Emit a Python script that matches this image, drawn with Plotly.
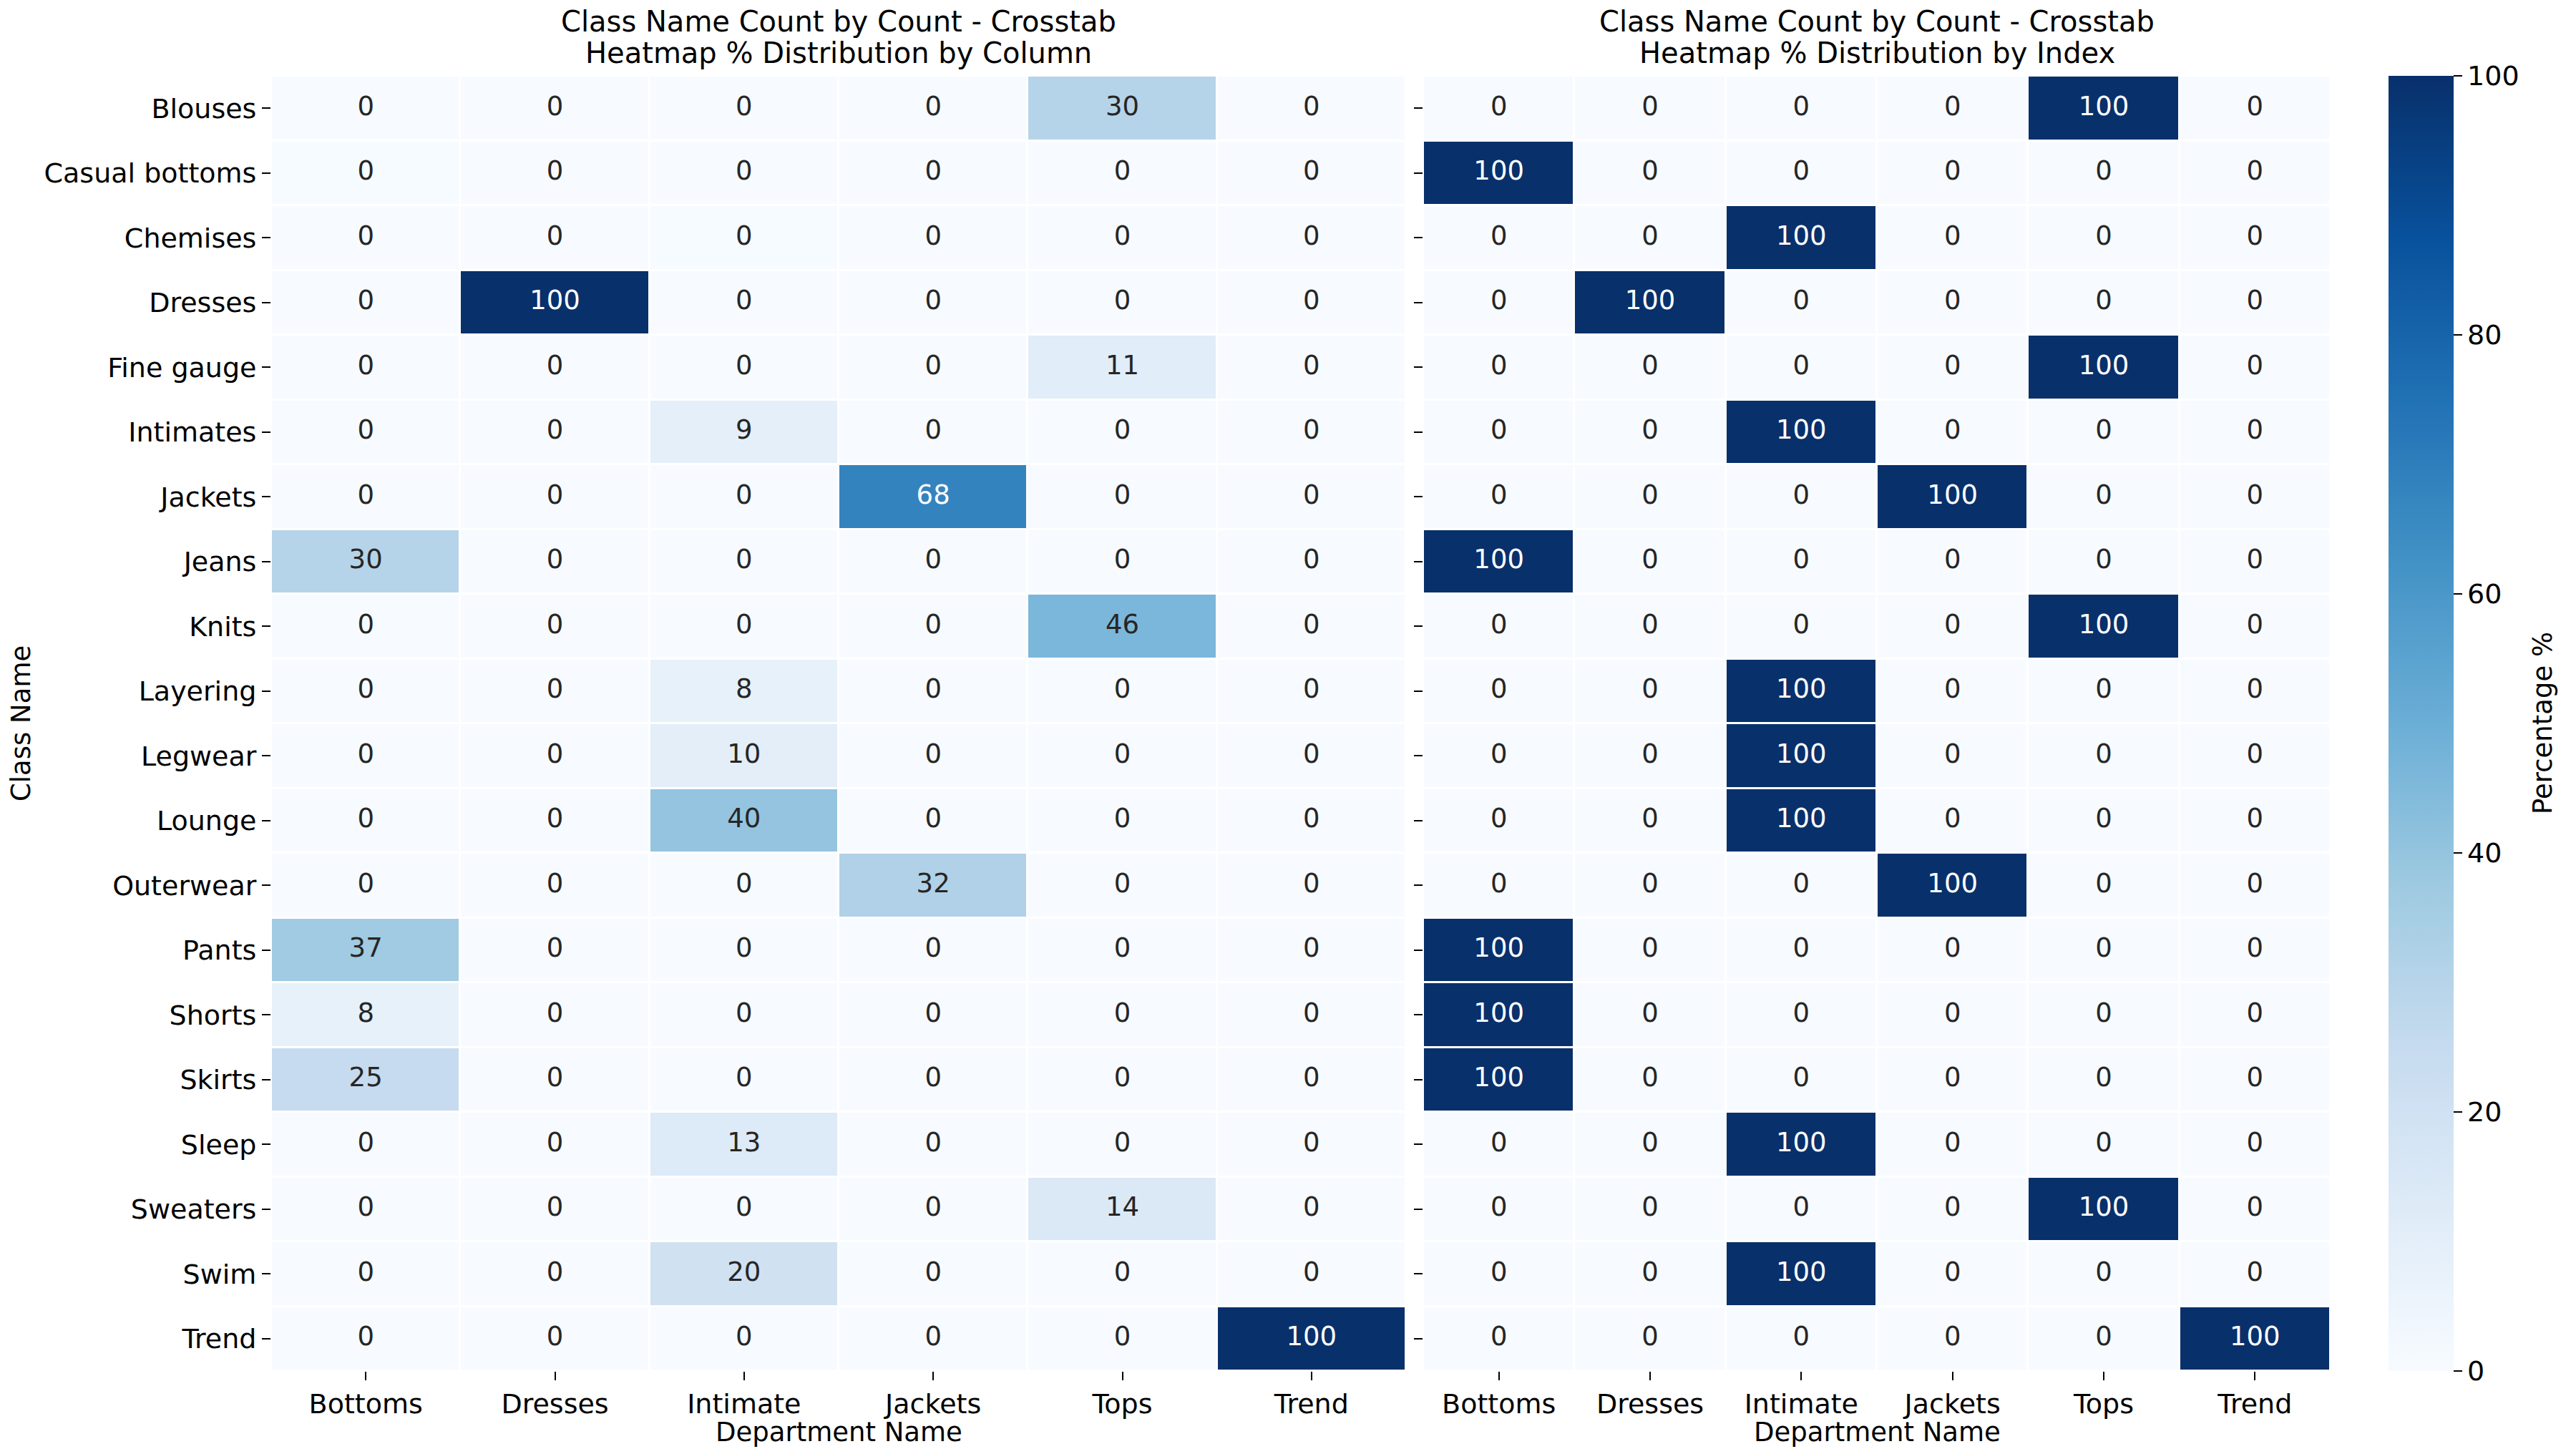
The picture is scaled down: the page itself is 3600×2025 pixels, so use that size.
import plotly.graph_objects as go

# ---------------- data ----------------
classes = ["Blouses", "Casual bottoms", "Chemises", "Dresses", "Fine gauge", "Intimates",
           "Jackets", "Jeans", "Knits", "Layering", "Legwear", "Lounge", "Outerwear",
           "Pants", "Shorts", "Skirts", "Sleep", "Sweaters", "Swim", "Trend"]
departments = ["Bottoms", "Dresses", "Intimate", "Jackets", "Tops", "Trend"]

# % distribution by column (share of each department's count)
col_bottoms  = [0, 0.3, 0, 0, 0, 0, 0, 30, 0, 0, 0, 0, 0, 37, 8, 25, 0, 0, 0, 0]
col_dresses  = [0, 0, 0, 100, 0, 0, 0, 0, 0, 0, 0, 0, 0, 0, 0, 0, 0, 0, 0, 0]
col_intimate = [0, 0, 0.3, 0, 0, 9, 0, 0, 0, 8, 10, 40, 0, 0, 0, 0, 13, 0, 20, 0]
col_jackets  = [0, 0, 0, 0, 0, 0, 68, 0, 0, 0, 0, 0, 32, 0, 0, 0, 0, 0, 0, 0]
col_tops     = [30, 0, 0, 0, 11, 0, 0, 0, 46, 0, 0, 0, 0, 0, 0, 0, 0, 14, 0, 0]
col_trend    = [0, 0, 0, 0, 0, 0, 0, 0, 0, 0, 0, 0, 0, 0, 0, 0, 0, 0, 0, 100]

# % distribution by index (share of each class's count)
idx_bottoms  = [0, 100, 0, 0, 0, 0, 0, 100, 0, 0, 0, 0, 0, 100, 100, 100, 0, 0, 0, 0]
idx_dresses  = [0, 0, 0, 100, 0, 0, 0, 0, 0, 0, 0, 0, 0, 0, 0, 0, 0, 0, 0, 0]
idx_intimate = [0, 0, 100, 0, 0, 100, 0, 0, 0, 100, 100, 100, 0, 0, 0, 0, 100, 0, 100, 0]
idx_jackets  = [0, 0, 0, 0, 0, 0, 100, 0, 0, 0, 0, 0, 100, 0, 0, 0, 0, 0, 0, 0]
idx_tops     = [100, 0, 0, 0, 100, 0, 0, 0, 100, 0, 0, 0, 0, 0, 0, 0, 0, 100, 0, 0]
idx_trend    = [0, 0, 0, 0, 0, 0, 0, 0, 0, 0, 0, 0, 0, 0, 0, 0, 0, 0, 0, 100]

colorbar_ticks = [0, 20, 40, 60, 80, 100]

# ---------------- styling ----------------
FONT = "DejaVu Sans"
FS = 37
FS_TICK = 38
FS_TITLE = 40
W, H = 3600, 2025
blues = ["#f7fbff", "#deebf7", "#c6dbef", "#9ecae1", "#6baed6",
         "#4292c6", "#2171b5", "#08519c", "#08306b"]
colorscale = [[i / (len(blues) - 1), c] for i, c in enumerate(blues)]


def to_matrix(cols):
    return [[c[i] for c in cols] for i in range(len(classes))]


z_left = to_matrix([col_bottoms, col_dresses, col_intimate, col_jackets, col_tops, col_trend])
z_right = to_matrix([idx_bottoms, idx_dresses, idx_intimate, idx_jackets, idx_tops, idx_trend])


def text_trace(z, xa, ya):
    xs, ys, ts, cs = [], [], [], []
    for i, cls in enumerate(classes):
        for j, d in enumerate(departments):
            v = z[i][j]
            xs.append(d)
            ys.append(cls)
            ts.append(f"{v:.0f}")
            cs.append("#ffffff" if v >= 60 else "#262626")
    return go.Scatter(x=xs, y=ys, mode="text", text=ts,
                      textfont=dict(family=FONT, size=FS, color=cs),
                      hoverinfo="skip", showlegend=False, xaxis=xa, yaxis=ya)


fig = go.Figure()
fig.add_trace(go.Heatmap(z=z_left, x=departments, y=classes, colorscale=colorscale,
                         zmin=0, zmax=100, xgap=3, ygap=3, showscale=False,
                         xaxis="x", yaxis="y"))
fig.add_trace(go.Heatmap(z=z_right, x=departments, y=classes, colorscale=colorscale,
                         zmin=0, zmax=100, xgap=3, ygap=3, showscale=True,
                         xaxis="x2", yaxis="y2",
                         colorbar=dict(x=3330 / W, xanchor="left", xpad=0,
                                       y=1 - 1908 / H, yanchor="bottom", ypad=0,
                                       len=1810 / H, lenmode="fraction",
                                       thickness=91, thicknessmode="pixels",
                                       outlinewidth=0, ticks="outside", ticklen=12,
                                       tickwidth=2, tickcolor="#000000",
                                       tickvals=colorbar_ticks,
                                       tickfont=dict(family=FONT, size=FS_TICK, color="#000000"))))
fig.add_trace(text_trace(z_left, "x", "y"))
fig.add_trace(text_trace(z_right, "x2", "y2"))

y_dom = [1 - 1908 / H, 1 - 98 / H]
axis_common = dict(type="category", showgrid=False, zeroline=False, showline=False,
                   ticks="outside", ticklen=12, tickwidth=2, tickcolor="#000000",
                   tickfont=dict(family=FONT, size=FS_TICK, color="#000000"), automargin=False)

fig.update_layout(
    width=W, height=H, template="none",
    margin=dict(l=0, r=0, t=0, b=0, pad=0),
    paper_bgcolor="#ffffff", plot_bgcolor="#ffffff",
    font=dict(family=FONT, size=FS, color="#000000"),
    showlegend=False,
    xaxis=dict(domain=[371 / W, 1957 / W], anchor="y", range=[-0.5, 5.5], **axis_common),
    yaxis=dict(domain=y_dom, anchor="x", range=[19.5, -0.5], **axis_common),
    xaxis2=dict(domain=[1981 / W, 3249 / W], anchor="y2", range=[-0.5, 5.5], **axis_common),
    yaxis2=dict(domain=y_dom, anchor="x2", range=[19.5, -0.5], showticklabels=False,
                **axis_common),
)

ann_font = dict(family=FONT, size=FS, color="#000000")
title_font = dict(family=FONT, size=FS_TITLE, color="#000000")
left_cx = (371 + 1957) / 2 / W
right_cx = (1981 + 3249) / 2 / W


def ann(text, x, y_px, font, angle=0):
    return dict(text=text, x=x, y=1 - y_px / H, xref="paper", yref="paper",
                xanchor="center", yanchor="middle", textangle=angle,
                showarrow=False, font=font)


annotations = [
    ann("Class Name Count by Count - Crosstab", left_cx, 22, title_font),
    ann("Heatmap % Distribution by Column", left_cx, 66, title_font),
    ann("Class Name Count by Count - Crosstab", right_cx, 22, title_font),
    ann("Heatmap % Distribution by Index", right_cx, 66, title_font),
    ann("Department Name", left_cx, 1993, ann_font),
    ann("Department Name", right_cx, 1993, ann_font),
    ann("Class Name", 21 / W, 1003, ann_font, -90),
    ann("Percentage %", 3545 / W, 1003, ann_font, -90),
]
fig.update_layout(annotations=annotations)

fig.write_html("out.html")
